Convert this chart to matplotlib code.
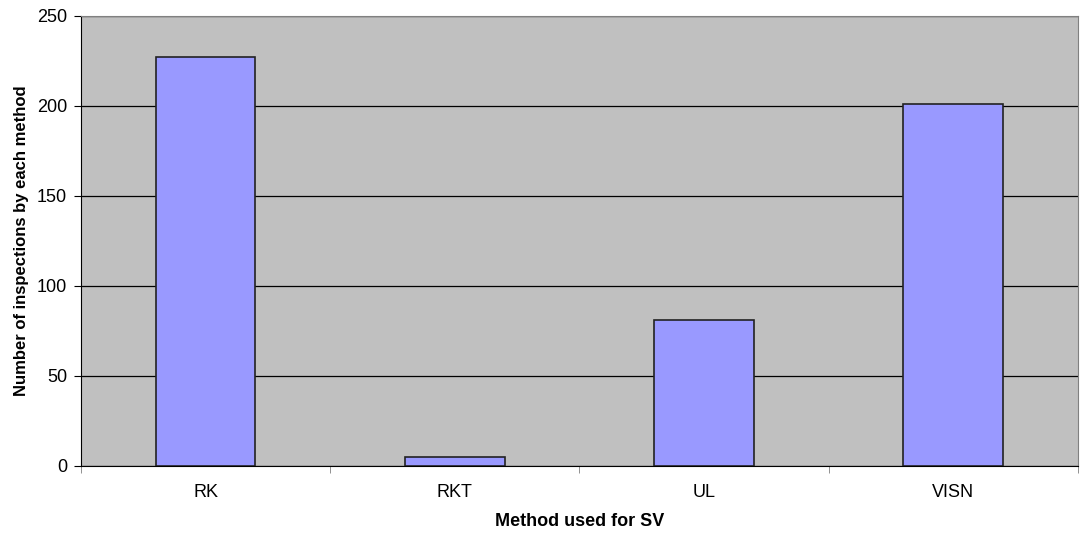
import matplotlib
matplotlib.use("Agg")
import matplotlib.pyplot as plt
import numpy as np

plt.rcParams["font.family"] = ["Liberation Sans", "DejaVu Sans"]

methods = ["RK", "RKT", "UL", "VISN"]
inspections = [227, 5, 81, 201]
y_ticks = [0, 50, 100, 150, 200, 250]

fig = plt.figure(figsize=(10.8, 5.33), dpi=100)
ax = fig.add_axes([0.075, 0.126, 0.923, 0.844])
ax.set_facecolor("#c0c0c0")

x = np.arange(len(methods))
ax.bar(x, inspections, width=0.4, color="#9999ff", edgecolor="#222222",
       linewidth=1.2, zorder=3)

ax.set_xlim(-0.5, len(methods) - 0.5)
ax.set_ylim(0, 250)
ax.set_yticks(y_ticks)
ax.yaxis.grid(True, color="black", linewidth=0.9, zorder=1)
ax.set_axisbelow(True)

ax.set_xticks(x)
ax.set_xticklabels(methods)
ax.set_xticks(np.arange(len(methods) + 1) - 0.5, minor=True)
ax.tick_params(axis="x", which="major", length=0, pad=13, labelsize=13)
ax.tick_params(axis="x", which="minor", length=5, color="#808080")
ax.tick_params(axis="y", length=5, labelsize=13, pad=5)

for side in ["top", "right"]:
    ax.spines[side].set_color("#808080")
for side in ["left", "bottom"]:
    ax.spines[side].set_color("black")

ax.set_xlabel("Method used for SV", fontweight="bold", fontsize=13, labelpad=9)
ax.set_ylabel("Number of inspections by each method", fontweight="bold",
              fontsize=12, labelpad=6)

fig.savefig("out.png", dpi=100)
